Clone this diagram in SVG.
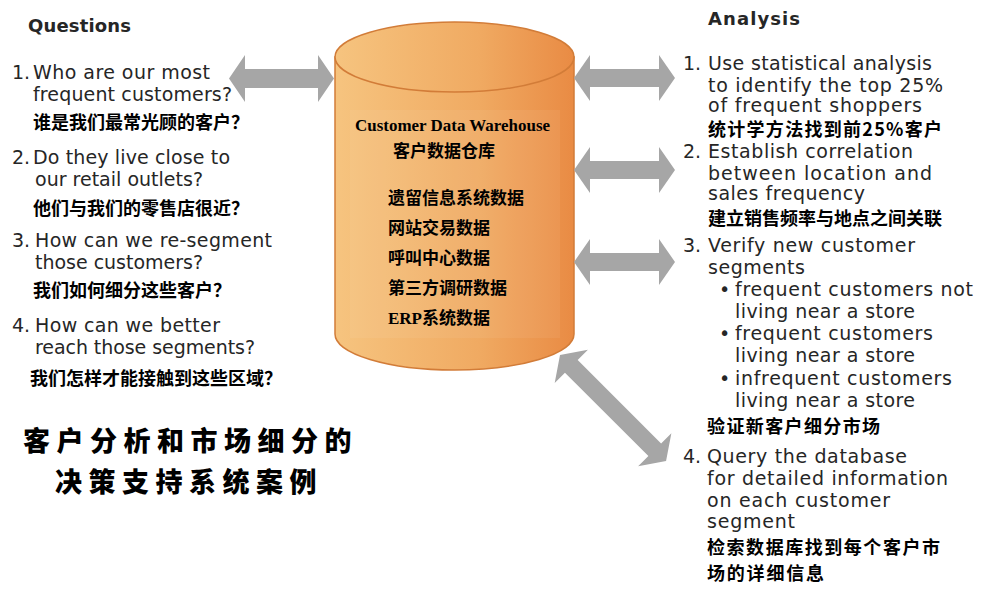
<svg xmlns="http://www.w3.org/2000/svg" width="987" height="591" viewBox="0 0 987 591">
<defs>
<linearGradient id="cylGrad" x1="0" y1="0" x2="1" y2="0">
<stop offset="0" stop-color="#F6C47F"/>
<stop offset="0.6" stop-color="#F0AA62"/>
<stop offset="1" stop-color="#E98B44"/>
</linearGradient>
<style>
.en{font-family:"DejaVu Sans","Liberation Sans",sans-serif;font-size:19px;fill:#262626}
.hd{font-family:"DejaVu Sans","Liberation Sans",sans-serif;font-size:18px;font-weight:bold;fill:#262626}
.zh{font-family:"Noto Sans CJK SC",sans-serif;font-size:18px;font-weight:bold;fill:#000}
.zh19{font-family:"Noto Sans CJK SC",sans-serif;font-size:18px;font-weight:bold;fill:#000}
.cyl{font-family:"Liberation Serif","Noto Sans CJK SC",serif;font-weight:bold;fill:#000}
.cal{font-family:"Noto Sans CJK SC",sans-serif;font-size:27px;font-weight:900;fill:#000;letter-spacing:6.5px}
.arrow{fill:#A6A6A6}
</style>
</defs>
<rect width="987" height="591" fill="#fff"/>

<g id="warehouse">
<path d="M335,57 L335,334 A119.5,36 0 0 0 574,334 L574,57 Z" fill="url(#cylGrad)" stroke="#D27C38" stroke-width="1.5"/>
<rect x="350" y="110" width="210" height="228" fill="#fff" opacity="0.06"/>
<ellipse cx="454.5" cy="57" rx="119.5" ry="35" fill="url(#cylGrad)" stroke="#D27C38" stroke-width="1.5"/>
<text class="cyl" x="452.5" y="131" font-size="16" text-anchor="middle" textLength="195" lengthAdjust="spacingAndGlyphs">Customer Data Warehouse</text>
<text class="cyl" x="393" y="157" font-size="17">客户数据仓库</text>
<text class="cyl" x="388" y="204" font-size="17">遗留信息系统数据</text>
<text class="cyl" x="388" y="234" font-size="17">网站交易数据</text>
<text class="cyl" x="388" y="264" font-size="17">呼叫中心数据</text>
<text class="cyl" x="388" y="294" font-size="17">第三方调研数据</text>
<text class="cyl" x="388" y="324" font-size="17">ERP系统数据</text>
</g>

<g id="questions">
<text class="hd" x="28" y="32" textLength="103">Questions</text>
<text class="en" x="12" y="79">1.</text>
<text class="en" x="33" y="79" textLength="177">Who are our most</text>
<text class="en" x="33" y="101" textLength="199">frequent customers?</text>
<text class="zh" x="33" y="129">谁是我们最常光顾的客户？</text>
<text class="en" x="12" y="164">2.</text>
<text class="en" x="33" y="164" textLength="197">Do they live close to</text>
<text class="en" x="35" y="186" textLength="168">our retail outlets?</text>
<text class="zh" x="33" y="215">他们与我们的零售店很近？</text>
<text class="en" x="12" y="247">3.</text>
<text class="en" x="35" y="247" textLength="237">How can we re-segment</text>
<text class="en" x="35" y="269" textLength="168">those customers?</text>
<text class="zh" x="33" y="297">我们如何细分这些客户？</text>
<text class="en" x="12" y="332">4.</text>
<text class="en" x="35" y="332" textLength="185">How can we better</text>
<text class="en" x="35" y="354" textLength="220">reach those segments?</text>
<text class="zh" x="30" y="385">我们怎样才能接触到这些区域？</text>
</g>

<g id="title">
<text class="cal" x="23" y="451">客户分析和市场细分的</text>
<text class="cal" x="55" y="492">决策支持系统案例</text>
</g>

<g id="analysis">
<text class="hd" x="708" y="25" textLength="92">Analysis</text>
<text class="en" x="683" y="70">1.</text>
<text class="en" x="708" y="70" textLength="224">Use statistical analysis</text>
<text class="en" x="708" y="92" textLength="235">to identify the top  25%</text>
<text class="en" x="708" y="112" textLength="214">of frequent shoppers</text>
<text class="zh" x="708" y="136" font-size="17" textLength="234">统计学方法找到前25%客户</text>
<text class="en" x="683" y="158">2.</text>
<text class="en" x="708" y="158" textLength="205">Establish correlation</text>
<text class="en" x="708" y="180" textLength="224">between location and</text>
<text class="en" x="708" y="200" textLength="157">sales frequency</text>
<text class="zh" x="708" y="225">建立销售频率与地点之间关联</text>
<text class="en" x="683" y="252">3.</text>
<text class="en" x="708" y="252" textLength="207">Verify new customer</text>
<text class="en" x="708" y="274" textLength="97">segments</text>
<text class="en" x="719" y="296">•</text>
<text class="en" x="735" y="296" textLength="238">frequent customers not</text>
<text class="en" x="735" y="318" textLength="180">living near a store</text>
<text class="en" x="719" y="340">•</text>
<text class="en" x="735" y="340" textLength="198">frequent customers</text>
<text class="en" x="735" y="362" textLength="180">living near a store</text>
<text class="en" x="719" y="385">•</text>
<text class="en" x="735" y="385" textLength="217">infrequent customers</text>
<text class="en" x="735" y="407" textLength="180">living near a store</text>
<text class="zh19" x="707" y="433" textLength="173">验证新客户细分市场</text>
<text class="en" x="683" y="463">4.</text>
<text class="en" x="707" y="463" textLength="200">Query the database</text>
<text class="en" x="707" y="485" textLength="241">for detailed information</text>
<text class="en" x="707" y="507" textLength="183">on each customer</text>
<text class="en" x="707" y="528" textLength="88">segment</text>
<text class="zh19" x="707" y="554" font-size="17" textLength="233">检索数据库找到每个客户市</text>
<text class="zh19" x="707" y="580" font-size="17" textLength="117">场的详细信息</text>
</g>

<g id="connectors">
<polygon class="arrow" points="229,78.5 245,55 245,69 318,69 318,55 334,78.5 318,102 318,88 245,88 245,102"/>
<polygon class="arrow" points="574,78 590,55 590,69 659,69 659,55 675,78 659,101 659,87 590,87 590,101"/>
<polygon class="arrow" points="574,170 590,147 590,161 659,161 659,147 675,170 659,193 659,179 590,179 590,193"/>
<polygon class="arrow" points="574,262 590,239 590,253 659,253 659,239 675,262 659,285 659,271 590,271 590,285"/>
<polygon class="arrow" transform="translate(560,355) rotate(45)" points="0,0 16,-23.5 16,-9 134,-9 134,-23.5 150,0 134,23.5 134,9 16,9 16,23.5"/>
</g>
</svg>
